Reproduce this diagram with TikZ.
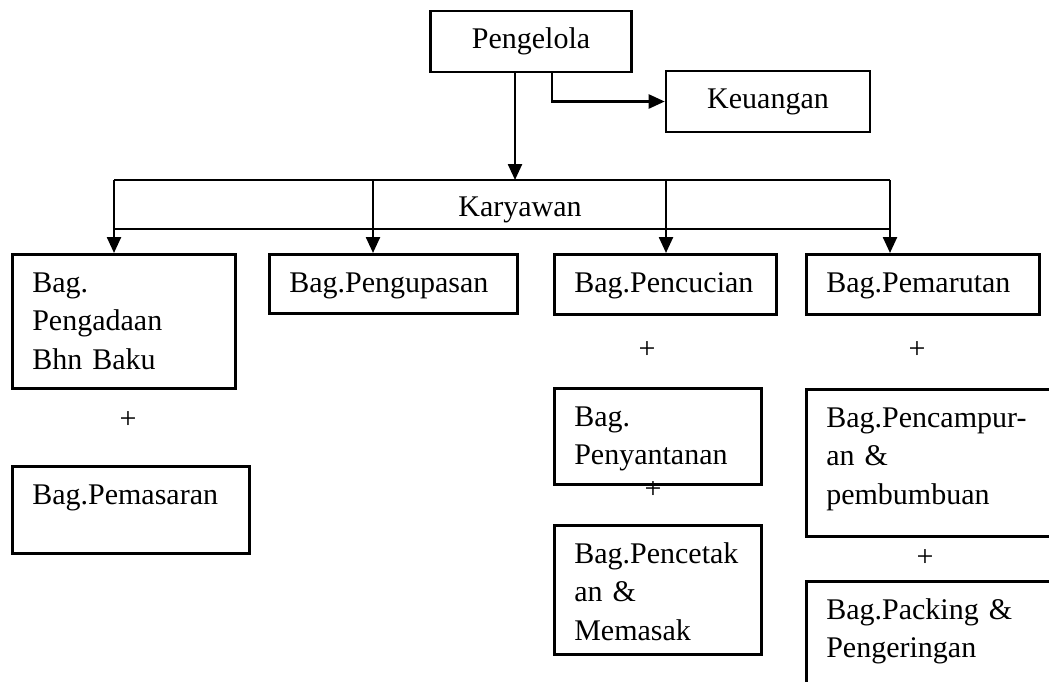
\documentclass[tikz,border=0pt]{standalone}
\usepackage{fontspec}
\setmainfont{Liberation Serif}
\usetikzlibrary{arrows.meta}
\begin{document}
\begin{tikzpicture}[x=1pt,y=-1pt,
  every node/.style={font=\fontsize{30pt}{38.5pt}\selectfont},
  box/.style={draw, line width=2.6pt, rectangle, anchor=north west, align=left,
              inner xsep=20pt, inner ysep=0pt, text height=38pt},
  cbox/.style={draw, line width=2.6pt, rectangle, inner sep=0pt},
  arr/.style={line width=2.4pt, -{Triangle[length=16pt,width=14pt]}},
  ln/.style={line width=2.4pt},
  plus/.style={inner sep=0pt}]
\useasboundingbox (0,0) rectangle (1049,681);

% top
\node[cbox, minimum width=201pt, minimum height=61pt] (peng) at (531,41.5) {Pengelola};
\node[cbox, minimum width=204pt, minimum height=61pt] (keu) at (768,101.5) {Keuangan};

% band
\coordinate (btl) at (114,180); \coordinate (btr) at (890,180);
\coordinate (bbl) at (114,229); \coordinate (bbr) at (890,229);
\coordinate (k2) at (373,180); \coordinate (k3) at (666,180);
\node (kar) at (520,210) {Karyawan};

% boxes
\node[box, text width=183pt, text depth=96pt] (b1) at (11,253) {Bag.\\Pengadaan\\Bhn Baku};
\node[box, text width=208pt, text depth=21pt] (b2) at (268,253) {Bag.Pengupasan};
\node[box, text width=182pt, text depth=22pt] (b3) at (553,253) {Bag.Pencucian};
\node[box, text width=193pt, text depth=22pt] (b4) at (805,253) {Bag.Pemarutan};
\node[box, text width=197pt, text depth=49pt] (b5) at (11,465) {Bag.Pemasaran};
\node[box, text width=167pt, text depth=58pt] (b6) at (553,387) {Bag.\\Penyantanan};
\node[box, text width=167pt, text depth=91pt] (b7) at (553,524) {Bag.Pencetak\\an \&\\Memasak};
\node[box, text width=210pt, text depth=109pt] (b8) at (805,388) {Bag.Pencampur-\\an \&\\pembumbuan};
\node[box, text width=210pt, text depth=82pt] (b9) at (805,580) {Bag.Packing \&\\Pengeringan};

% plus signs
\node[plus] (p1) at (128,420) {+};
\node[plus] (p2) at (647,350) {+};
\node[plus] (p3) at (917,350) {+};
\node[plus] (p4) at (653,490) {+};
\node[plus] (p5) at (925,558) {+};

% connectors
\draw[arr] ([xshift=-16pt]peng.south) -- ([xshift=-16pt]peng.south |- btl);
\draw[arr] ([xshift=21pt]peng.south) |- (keu.west);
\draw[ln] (btl) -- (btr);
\draw[ln] (bbl) -- (bbr);
\draw[arr] (btl) -- (btl |- b1.north);
\draw[arr] (k2) -- (k2 |- b2.north);
\draw[arr] (k3) -- (k3 |- b3.north);
\draw[arr] (btr) -- (btr |- b4.north);
\end{tikzpicture}
\end{document}
